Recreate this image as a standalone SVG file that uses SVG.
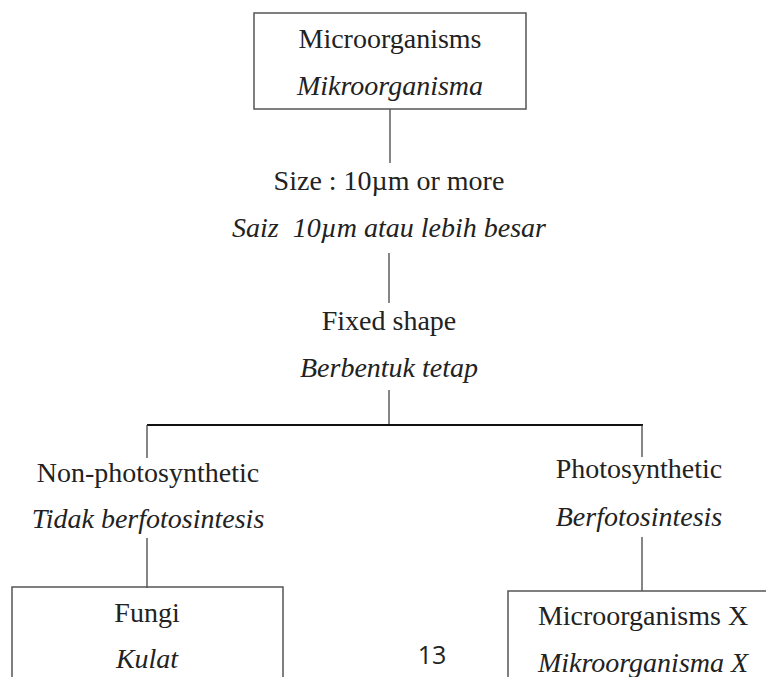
<svg xmlns="http://www.w3.org/2000/svg" width="766" height="677" viewBox="0 0 766 677">
<style>
.t{font-family:"Liberation Serif","Times New Roman",serif;font-size:28px;fill:#222;text-anchor:middle}
.i{font-style:italic}
.box{fill:none;stroke:#555;stroke-width:1.5}
.ln{stroke:#444;stroke-width:1.3;fill:none}
.hl{stroke:#111;stroke-width:2.2;fill:none}
.pg{font-family:"Open Sans","Liberation Sans",sans-serif;font-size:25px;fill:#222;text-anchor:middle}
</style>
<rect width="766" height="677" fill="#fff"/>
<g id="connectors">
<line class="ln" x1="390" y1="109" x2="390" y2="163"/>
<line class="ln" x1="389" y1="253" x2="389" y2="303"/>
<line class="ln" x1="389" y1="390" x2="389" y2="425"/>
<line class="hl" x1="147" y1="425" x2="643" y2="425"/>
<line class="ln" x1="147" y1="425" x2="147" y2="458"/>
<line class="ln" x1="642" y1="425" x2="642" y2="457"/>
<line class="ln" x1="147" y1="538" x2="147" y2="588"/>
<line class="ln" x1="642" y1="537" x2="642" y2="591"/>
</g>
<g id="microorganisms">
<rect class="box" x="254" y="13" width="272" height="96"/>
<text class="t" x="390" y="48">Microorganisms</text>
<text class="t i" x="390" y="95">Mikroorganisma</text>
</g>
<g id="size">
<text class="t" x="389" y="190">Size : 10µm or more</text>
<text class="t i" x="389" y="237" xml:space="preserve">Saiz  10µm atau lebih besar</text>
</g>
<g id="fixed-shape">
<text class="t" x="389" y="330">Fixed shape</text>
<text class="t i" x="389" y="377">Berbentuk tetap</text>
</g>
<g id="non-photosynthetic">
<text class="t" x="148" y="482">Non-photosynthetic</text>
<text class="t i" x="148" y="528">Tidak berfotosintesis</text>
</g>
<g id="photosynthetic">
<text class="t" x="639" y="478">Photosynthetic</text>
<text class="t i" x="639" y="526">Berfotosintesis</text>
</g>
<g id="fungi">
<rect class="box" x="12" y="587" width="271" height="110"/>
<text class="t" x="147" y="622">Fungi</text>
<text class="t i" x="147" y="668">Kulat</text>
</g>
<g id="microorganisms-x">
<rect class="box" x="508" y="591" width="280" height="110"/>
<text class="t" x="643" y="625">Microorganisms X</text>
<text class="t i" x="643" y="672">Mikroorganisma X</text>
</g>
<text class="pg" x="432" y="664">13</text>
</svg>
